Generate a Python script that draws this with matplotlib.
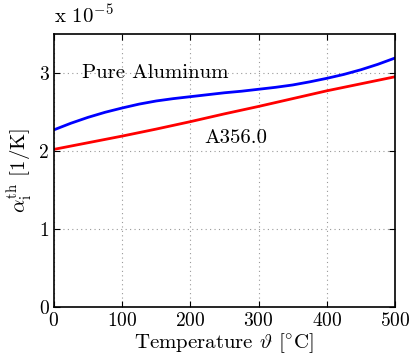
import matplotlib
matplotlib.use("Agg")
import matplotlib.pyplot as plt
from matplotlib.ticker import FuncFormatter

plt.rcParams['font.family'] = ['cmr10']
plt.rcParams['mathtext.fontset'] = 'cm'
plt.rcParams['axes.formatter.use_mathtext'] = True

temp_al = [0, 25, 50, 75, 100, 125, 150, 175, 200, 225, 250, 275, 300, 325,
           350, 375, 400, 425, 450, 475, 500]
pure_al = [2.27, 2.355, 2.43, 2.495, 2.55, 2.60, 2.64, 2.67, 2.695, 2.72, 2.745,
           2.765, 2.79, 2.815, 2.845, 2.885, 2.93, 2.98, 3.04, 3.11, 3.19]
temp_a356 = [0, 50, 100, 150, 200, 250, 300, 350, 400, 450, 500]
a356 = [2.02, 2.105, 2.19, 2.28, 2.375, 2.475, 2.57, 2.67, 2.77, 2.86, 2.95]
scale = 1e-5
xticks = [0, 100, 200, 300, 400, 500]
yticks = [0, 1, 2, 3]

fig = plt.figure(figsize=(4.11, 3.6), dpi=100)
ax = fig.add_axes([0.131, 0.147, 0.830, 0.759])
ax.plot(temp_al, [v * scale for v in pure_al], color='#0000ff', lw=2)
ax.plot(temp_a356, [v * scale for v in a356], color='#ff0000', lw=2)
ax.set_xlim(0, 500)
ax.set_ylim(0, 3.5 * scale)
ax.set_xticks(xticks)
ax.set_yticks([t * scale for t in yticks])
ax.yaxis.set_major_formatter(FuncFormatter(lambda v, p: f"{v / scale:g}"))
ax.grid(True, linestyle=(0, (1, 3)), color='#999999', lw=0.8)
ax.tick_params(direction='in', top=True, right=True, labelsize=14, length=4)
for s in ax.spines.values():
    s.set_linewidth(1.2)
ax.set_xlabel(r'Temperature $\vartheta$ $[{}^{\circ}\mathrm{C}]$', fontsize=15, labelpad=1)
ax.set_ylabel(r'$\alpha_\mathrm{i}^\mathrm{th}$ [1/K]', fontsize=15, labelpad=4)
ax.text(41, 3.0 * scale, 'Pure Aluminum', fontsize=15, va='center', ha='left')
ax.text(221, 2.17 * scale, 'A356.0', fontsize=15, va='center', ha='left')
fig.text(0.131, 0.925, r'x $10^{-5}$', fontsize=15, ha='left', va='bottom')
fig.savefig('out.png', dpi=100)
